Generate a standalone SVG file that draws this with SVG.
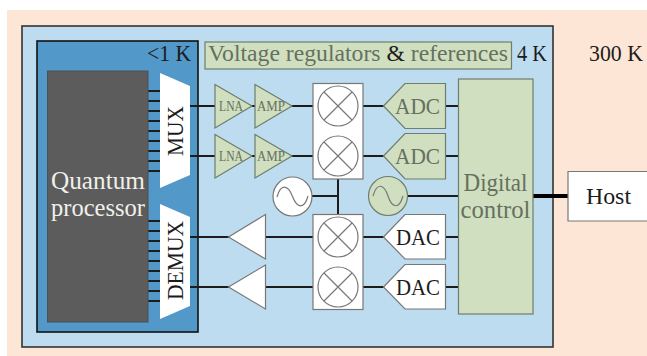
<svg xmlns="http://www.w3.org/2000/svg" width="647" height="356" viewBox="0 0 647 356">
<style>
text{font-family:"Liberation Serif","DejaVu Serif",serif;text-anchor:middle}
.w{stroke:#1c1c1c;stroke-width:2;fill:none}
.g{fill:#d0dfc0;stroke:#6f7d6a;stroke-width:1.2}
.h{fill:#fff;stroke:#777;stroke-width:1.2}
.m{fill:none;stroke:#777;stroke-width:1.2}
.gt{fill:#66705f}
.bt{fill:#1c1c1c}
</style>
<defs>
<g id="mixer"><circle r="20" class="m"/><path d="M-14-14L14 14M-14 14L14-14" class="m"/></g>
</defs>
<rect width="647" height="356" fill="#fff"/>
<rect x="7" y="10" width="640" height="346" fill="#fee6d6"/>
<g id="stage-4k"><rect x="22" y="26" width="531" height="321" fill="#bddcf0" stroke="#333" stroke-width="1.6"/><text x="532" y="61" font-size="23" class="bt" textLength="30" lengthAdjust="spacingAndGlyphs">4 K</text></g>
<g id="stage-1k"><rect x="37" y="41" width="161" height="291" fill="#5298c8" stroke="#111" stroke-width="1.6"/><text x="169" y="61" font-size="23" class="bt" textLength="44" lengthAdjust="spacingAndGlyphs">&lt;1 K</text></g>
<text id="label-300k" x="616" y="61" font-size="23" class="bt" textLength="54" lengthAdjust="spacingAndGlyphs">300 K</text>
<g id="connectors">
<path class="w" d="M148 91H160M148 101H160M148 111H160M148 121H160M148 131H160M148 141H160M148 151H160M148 161H160M148 171H160"/>
<path class="w" d="M148 221H160M148 231H160M148 241H160M148 251H160M148 261H160M148 271H160M148 281H160M148 291H160M148 301H160"/>
<path class="w" d="M190 106H313M190 156H313M190 237H313M190 287H313"/>
<path class="w" d="M363 106H384M363 156H384M363 237H384M363 287H384"/>
<path class="w" d="M445 106H458M445 156H458M445 237H458M445 287H458"/>
<path class="w" d="M312 196H338M338 179V214M408 196H458"/>
<path d="M533 196H568" stroke="#000" stroke-width="4" fill="none"/>
</g>
<g id="processor"><rect x="47.500" y="71" width="100.500" height="251" fill="#5c5c5c" stroke="#4a4f55" stroke-width="1"/><text x="98" y="189" font-size="25" fill="#f0f0ea" textLength="94" lengthAdjust="spacingAndGlyphs">Quantum</text><text x="98" y="216" font-size="25" fill="#f0f0ea" textLength="94" lengthAdjust="spacingAndGlyphs">processor</text></g>
<g id="mux"><path style="fill:#fff" d="M160 73L190 86V175L160 188Z"/><text transform="translate(183 131) rotate(-90)" font-size="24" class="bt" textLength="50" lengthAdjust="spacingAndGlyphs">MUX</text></g>
<g id="demux"><path style="fill:#fff" d="M160 204L190 217V306L160 319Z"/><text transform="translate(183 260.500) rotate(-90)" font-size="24" class="bt" textLength="79" lengthAdjust="spacingAndGlyphs">DEMUX</text></g>
<g id="lna1"><path class="g" d="M215 84.500L252 106L215 128Z"/><text x="231" y="111" font-size="14" class="gt" textLength="24" lengthAdjust="spacingAndGlyphs">LNA</text></g>
<g id="amp1"><path class="g" d="M255 84.500L292 106L255 128Z"/><text x="271" y="111" font-size="14" class="gt" textLength="28" lengthAdjust="spacingAndGlyphs">AMP</text></g>
<g id="lna2"><path class="g" d="M215 134.500L252 156L215 178Z"/><text x="231" y="161" font-size="14" class="gt" textLength="24" lengthAdjust="spacingAndGlyphs">LNA</text></g>
<g id="amp2"><path class="g" d="M255 134.500L292 156L255 178Z"/><text x="271" y="161" font-size="14" class="gt" textLength="28" lengthAdjust="spacingAndGlyphs">AMP</text></g>
<g id="amp3"><path class="h" d="M228.500 237L265.500 214.500V259Z"/></g>
<g id="amp4"><path class="h" d="M228.500 287L265.500 265V309Z"/></g>
<g id="mixers-rx"><rect class="h" x="313" y="83.500" width="50" height="95.500"/><use href="#mixer" x="338" y="106"/><use href="#mixer" x="338" y="156"/></g>
<g id="mixers-tx"><rect class="h" x="313" y="214.500" width="50" height="95"/><use href="#mixer" x="338" y="237"/><use href="#mixer" x="338" y="287"/></g>
<g id="osc-lo"><circle cx="292.500" cy="196.500" r="19.500" class="h"/><path class="m" d="M277 197C281 183 288 185 292.500 196.500C297 208 304 210 308 196"/></g>
<g id="osc-ref"><circle cx="388" cy="196" r="19.500" class="g"/><path class="m" d="M373 196C377 182 384 184 388 196C392 208 399 210 403 196"/></g>
<g id="adc1"><path class="g" d="M383.500 106L405 83.500H445.500V128.500H405Z"/><text x="417.500" y="114" font-size="24" class="gt" textLength="45" lengthAdjust="spacingAndGlyphs">ADC</text></g>
<g id="adc2"><path class="g" d="M383.500 156L405 133.500H445.500V179H405Z"/><text x="417.500" y="164" font-size="24" class="gt" textLength="45" lengthAdjust="spacingAndGlyphs">ADC</text></g>
<g id="dac1"><path class="h" d="M383.500 237L405 214.500H445.500V259H405Z"/><text x="418" y="244.500" font-size="24" class="bt" textLength="44" lengthAdjust="spacingAndGlyphs">DAC</text></g>
<g id="dac2"><path class="h" d="M383.500 287L405 264.500H445.500V309H405Z"/><text x="418" y="294.500" font-size="24" class="bt" textLength="44" lengthAdjust="spacingAndGlyphs">DAC</text></g>
<g id="control"><rect class="g" x="458.500" y="79" width="74.500" height="235"/><text x="495.500" y="190.500" font-size="25" class="gt" textLength="64" lengthAdjust="spacingAndGlyphs">Digital</text><text x="495.500" y="218" font-size="25" class="gt" textLength="70" lengthAdjust="spacingAndGlyphs">control</text></g>
<g id="regulators"><rect class="g" x="205" y="42" width="306.500" height="27"/><text x="358" y="61" font-size="24" class="gt" textLength="300" lengthAdjust="spacingAndGlyphs">Voltage regulators <tspan class="bt">&amp;</tspan> references</text></g>
<g id="host"><path fill="#fff" stroke="#777" stroke-width="1.2" d="M647 171.500H568V221H647"/><text x="608.500" y="204" font-size="24" class="bt" textLength="45" lengthAdjust="spacingAndGlyphs">Host</text></g>
</svg>
